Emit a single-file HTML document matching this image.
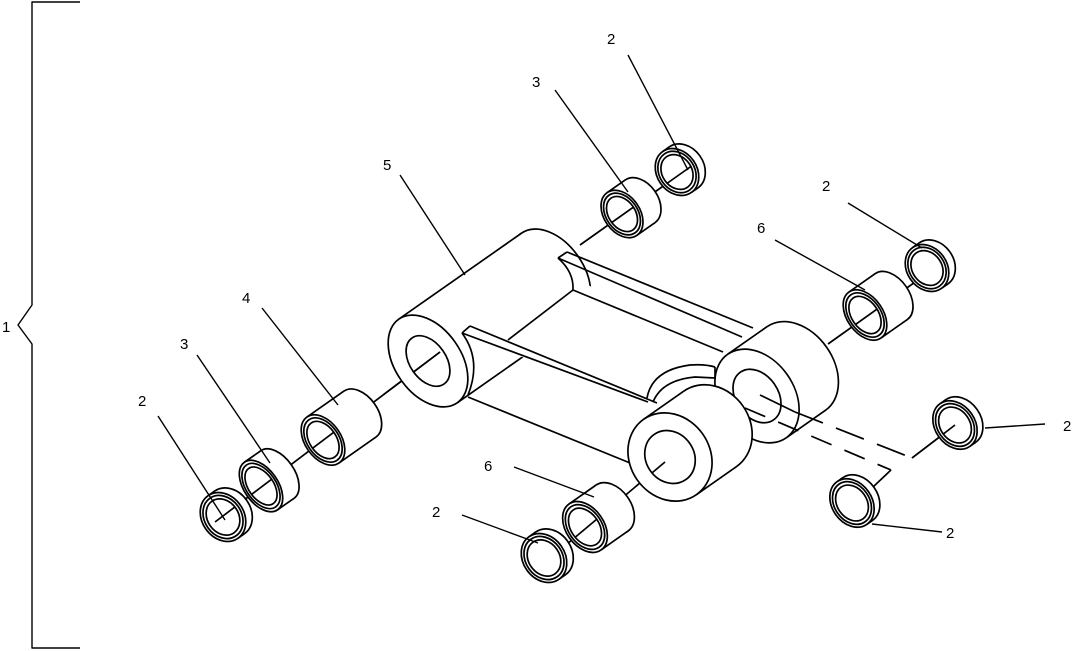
<!DOCTYPE html>
<html><head><meta charset="utf-8">
<style>
html,body{margin:0;padding:0;background:#fff;}
svg{display:block;}
text{font-family:"Liberation Sans",sans-serif;font-size:15px;fill:#000;}
</style></head>
<body>
<svg id="s" width="1074" height="651" viewBox="0 0 1074 651" xmlns="http://www.w3.org/2000/svg" fill="none" stroke="#000" stroke-width="1.7" stroke-linejoin="round">
<defs id="defs"></defs>
<g id="g"></g>
<g stroke="#000" stroke-width="1.4">
<polyline points="80,2 32,2 32,305 18,325 32,344 32,648 80,648"/>
<line x1="628" y1="55" x2="688" y2="170"/>
<line x1="555" y1="90" x2="628" y2="192"/>
<line x1="400" y1="175" x2="465" y2="275"/>
<line x1="262" y1="308" x2="338" y2="405"/>
<line x1="197" y1="355" x2="270" y2="463"/>
<line x1="158" y1="416" x2="225" y2="520"/>
<line x1="775" y1="240" x2="865" y2="290"/>
<line x1="848" y1="203" x2="922" y2="248"/>
<line x1="514" y1="467" x2="594" y2="497"/>
<line x1="462" y1="515" x2="538" y2="543"/>
<line x1="1045" y1="424" x2="985" y2="428"/>
<line x1="942" y1="532" x2="872" y2="524"/>
</g>
<g stroke="none">
<text x="2" y="332">1</text>
<text x="607" y="44">2</text>
<text x="532" y="87">3</text>
<text x="383" y="170">5</text>
<text x="242" y="303">4</text>
<text x="180" y="349">3</text>
<text x="138" y="406">2</text>
<text x="757" y="233">6</text>
<text x="822" y="191">2</text>
<text x="484" y="471">6</text>
<text x="432" y="517">2</text>
<text x="1063" y="431">2</text>
<text x="946" y="538">2</text>
</g>
</svg>
<script>
var g=document.getElementById('g'),defs=document.getElementById('defs');var NS='http://www.w3.org/2000/svg';
var u=[0.574,0.819],d=[0.819,-0.574],cid=0;
var AX=[[580,245,700,160],[828,344,918,280],[440,352,383,395],[665,462,560,550],[215,522,440,352],[955,425,912,458]];
function el(t,a,par){var e=document.createElementNS(NS,t);for(var k in a)e.setAttribute(k,a[k]);(par||g).appendChild(e);return e;}
function ell(cx,cy,a,b,fill){el('ellipse',{cx:cx,cy:cy,rx:a,ry:b,transform:'rotate(55 '+cx+' '+cy+')',fill:fill||'none'});}
function line(x1,y1,x2,y2,extra){var o={x1:x1,y1:y1,x2:x2,y2:y2};if(extra)for(var k in extra)o[k]=extra[k];el('line',o);}
function back(cx,cy,a,b,L){
 var bx=cx+L*d[0],by=cy+L*d[1];
 ell(bx,by,a,b,'#fff');
 var p1=[cx+a*u[0],cy+a*u[1]],p2=[cx-a*u[0],cy-a*u[1]];
 el('polygon',{points:p1+' '+p2+' '+(p2[0]+L*d[0])+','+(p2[1]+L*d[1])+' '+(p1[0]+L*d[0])+','+(p1[1]+L*d[1]),fill:'#fff',stroke:'none'});
 line(p1[0],p1[1],p1[0]+L*d[0],p1[1]+L*d[1]);line(p2[0],p2[1],p2[0]+L*d[0],p2[1]+L*d[1]);
}
function front(cx,cy,a,b,holes){
 ell(cx,cy,a,b,'#fff');holes.forEach(function(h){ell(cx,cy,a*h,b*h);});
 var h=holes[holes.length-1];cid++;
 var cp=el('clipPath',{id:'c'+cid},defs);
 el('ellipse',{cx:cx,cy:cy,rx:a*h,ry:b*h,transform:'rotate(55 '+cx+' '+cy+')'},cp);
 AX.forEach(function(x){line(x[0],x[1],x[2],x[3],{'clip-path':'url(#c'+cid+')'});});
}
function cyl(cx,cy,a,b,L,holes){back(cx,cy,a,b,L);front(cx,cy,a,b,holes);}
AX.forEach(function(x){line(x[0],x[1],x[2],x[3]);});
// top pieces
cyl(677,172,25,20,8,[0.88,0.74]);
cyl(622,214,26,18,22,[0.88,0.74]);
cyl(927,268,25,20,8,[0.88,0.74]);
cyl(865,315,28,18,32,[0.88,0.74]);
// link: upper right boss
back(757,396,51,37,48);
front(757,396,51,37,[0.57]);
// left boss back
back(428,361,51,33,150);
el('polygon',{points:'575,280 735,345 660,410 465,335',fill:'#fff',stroke:'none'});
// plates
line(567,252,753,328);line(558,258,742,337);line(558,258,567,252);
el('path',{d:'M558,258 Q574,272 573,290'});
line(573,290,723,352);line(573,290,508,340);
line(470,326,657,403);line(462,333,648,402);line(462,333,470,326);
el('path',{d:'M462,333 Q482,360 468,395'});
line(468,397,635,465);
el('path',{d:'M647,398 Q652,370 690,365 Q705,364 715,367'});
el('path',{d:'M653,402 Q662,380 695,377 L715,378'});
line(715,367,715,379);
// lower right boss
cyl(670,457,46,40,49,[0.6]);
// left boss front
front(428,361,51,33,[0.55]);
// dashed lines from upper right boss
line(760,395,795,412);
line(795,412,912,458,{'stroke-dasharray':'30,14'});
line(912,458,958,423);
line(745,408,891,470,{'stroke-dasharray':'22,14'});
line(891,470,873,487);
// bottom pieces
cyl(585,527,28,19,33,[0.88,0.74]);
cyl(544,558,26,21,8,[0.88,0.74]);
cyl(323,440,28,18,45,[0.88,0.74]);
cyl(261,486,29,17,20,[0.88,0.74]);
cyl(223,517,26,21,8,[0.88,0.74]);
cyl(955,425,26,20,7,[0.88,0.74]);
cyl(852,503,26,20,7,[0.88,0.74]);
</script>
</body></html>
